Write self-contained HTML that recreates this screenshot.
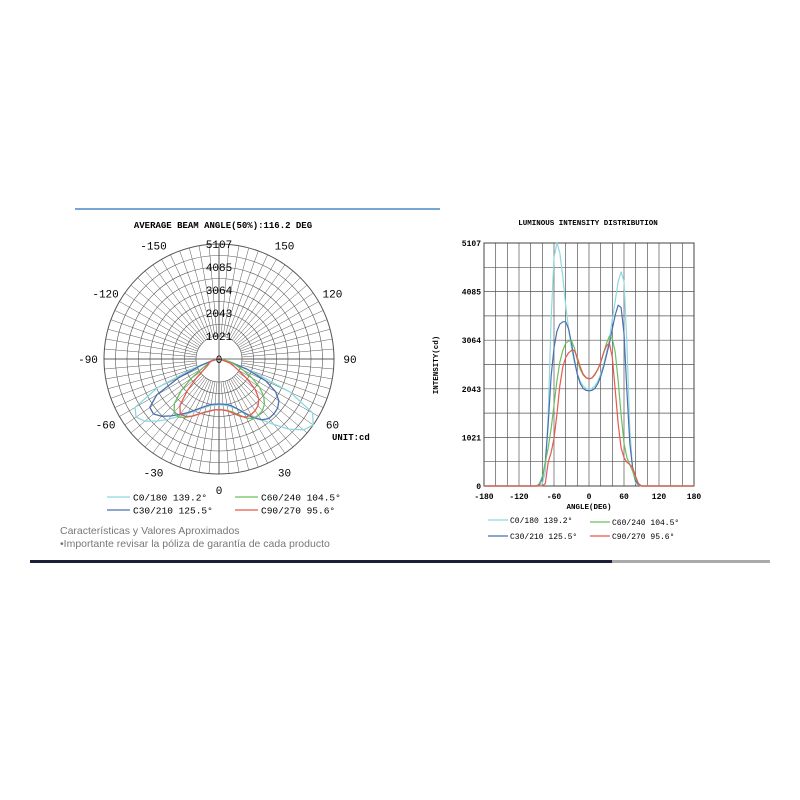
<!DOCTYPE html>
<html><head><meta charset="utf-8"><style>
body{margin:0;background:#fff;width:800px;height:800px;overflow:hidden;font-family:"Liberation Sans",sans-serif}
svg{position:absolute;left:0;top:0}
</style></head><body>
<svg id="s" width="800" height="800" viewBox="0 0 800 800">
<line x1="75" y1="209" x2="440" y2="209" stroke="#4a88c6" stroke-width="1.5"/>
<rect x="30" y="560" width="582" height="3" fill="#1c1f3a"/>
<rect x="612" y="560" width="158" height="3" fill="#aaa"/>
<text x="60" y="534" font-size="10.5" fill="#777">Características y Valores Aproximados</text>
<text x="60" y="547" font-size="10.5" fill="#777">•Importante revisar la póliza de garantía de cada producto</text>
<g id="polar"></g>
<g id="cart"></g>
</svg>
<script>
const angles=[-90,-85,-80,-75,-70,-65,-60,-55,-50,-45,-40,-35,-30,-25,-20,-15,-10,-5,0,5,10,15,20,25,30,35,40,45,50,55,60,65,70,75,80,85,90];
const c0=[0,10,50,300,1500,3500,4800,5107,4900,4400,3800,3300,2900,2600,2350,2200,2100,2050,2030,2050,2100,2200,2350,2550,2800,3100,3500,3900,4300,4500,4300,3000,1200,300,60,20,0];
const c30=[0,30,150,500,1300,2300,2900,3250,3400,3450,3450,3300,3000,2650,2350,2150,2050,2010,2000,2010,2050,2150,2300,2500,2750,3000,3300,3600,3800,3750,3200,2000,900,350,100,30,0];
const c60=[0,50,200,500,800,1200,1700,2200,2600,2850,3000,3050,3050,2900,2650,2450,2330,2270,2250,2270,2330,2450,2600,2800,3000,3150,3100,2800,2200,1500,900,600,450,300,150,50,0];
const c90=[0,0,0,50,500,700,1000,1500,2100,2500,2700,2800,2850,2850,2700,2500,2350,2280,2250,2270,2350,2450,2600,2800,2950,3000,2700,2000,1300,800,600,500,450,380,200,40,0];
const seriesNames=["C0/180 139.2°","C30/210 125.5°","C60/240 104.5°","C90/270 95.6°"];
const colors=["#8fd8de","#4a6fb0","#6cbf60","#e8584f"];
const yTicks=[0,1021,2043,3064,4085,5107];
const xTicks=[-180,-120,-60,0,60,120,180];
const polarLabels=[-150,150,-120,120,-90,90,-60,60,-30,30,0];
const MAX=5107;
const NS="http://www.w3.org/2000/svg";
function mk(p,t,a,txt){const e=document.createElementNS(NS,t);for(const k in a)e.setAttribute(k,a[k]);if(txt!==undefined)e.textContent=txt;p.appendChild(e);return e;}
const all=[c0,c30,c60,c90];
const P=document.getElementById('polar');
const cx=219,cy=359,R=115;
const rS=v=>v/MAX*R;
mk(P,'text',{x:223,y:228,'font-size':9,'font-weight':'bold','font-family':'Liberation Mono,monospace','text-anchor':'middle'},'AVERAGE BEAM ANGLE(50%):116.2 DEG');
for(let i=2;i<=10;i++){const c=mk(P,'circle',{cx:cx,cy:cy,r:R*i/10,fill:'none',stroke:'#555','stroke-width':i==10?1:0.6});}
for(let a=0;a<360;a+=5){const t=a*Math.PI/180;const l=mk(P,'line',{x1:cx+R*0.2*Math.sin(t),y1:cy+R*0.2*Math.cos(t),x2:cx+R*Math.sin(t),y2:cy+R*Math.cos(t),stroke:'#555','stroke-width':0.5});}
mk(P,'line',{x1:cx-R,y1:cy,x2:cx+R,y2:cy,stroke:'#444','stroke-width':0.8});
mk(P,'line',{x1:cx,y1:cy-R,x2:cx,y2:cy+R,stroke:'#444','stroke-width':0.8});
all.forEach((s,k)=>{const pts=angles.map((a,i)=>{const t=a*Math.PI/180,r=rS(s[i]);return (cx-r*Math.sin(t)).toFixed(1)+','+(cy+r*Math.cos(t)).toFixed(1)}).join(' ');
const pl=mk(P,'polyline',{points:pts,fill:'none',stroke:colors[k],'stroke-width':1.3,'stroke-linejoin':'round'});
});
yTicks.forEach(v=>{const t=mk(P,'text',{x:cx,y:cy-rS(v)+4,'font-size':11,'text-anchor':'middle','font-family':'Liberation Mono,monospace'},String(v));});
polarLabels.forEach(a=>{const t=a*Math.PI/180,r=131;
const e=mk(P,'text',{x:cx+r*Math.sin(t),y:cy+r*Math.cos(t)+4,'font-size':11,'text-anchor':'middle','font-family':'Liberation Mono,monospace'},String(a));});
mk(P,'text',{x:332,y:440,'font-size':9,'font-weight':'bold','font-family':'Liberation Mono,monospace'},'UNIT:cd');
const lg=[[107,497],[107,510],[235,497],[235,510]];
[0,1,2,3].forEach(k=>{const [x,y]=lg[k];const l=mk(P,'line',{x1:x,y1:y,x2:x+23,y2:y,stroke:colors[k],'stroke-width':1.2});
const t=mk(P,'text',{x:x+26,y:y+3.5,'font-size':9.5,'font-family':'Liberation Mono,monospace'},seriesNames[k]);});
const C=document.getElementById('cart');
const X0=484,X1=694,Y0=486,Y1=243;
const xs=a=>X0+(a+180)/360*(X1-X0), ys=v=>Y0-v/MAX*(Y0-Y1);
mk(C,'text',{x:588,y:225,'font-size':7.5,'font-weight':'bold','font-family':'Liberation Mono,monospace','text-anchor':'middle'},'LUMINOUS INTENSITY DISTRIBUTION');
for(let a=-180;a<=180;a+=20){const l=mk(C,'line',{x1:xs(a),y1:Y1,x2:xs(a),y2:Y0,stroke:'#555','stroke-width':0.7});}
for(let i=0;i<=10;i++){const v=MAX*i/10;const l=mk(C,'line',{x1:X0,y1:ys(v),x2:X1,y2:ys(v),stroke:'#555','stroke-width':0.7});}
mk(C,'rect',{x:X0,y:Y1,width:X1-X0,height:Y0-Y1,fill:'none',stroke:'#444','stroke-width':1});
all.forEach((s,k)=>{const pts=[[-180,0],...angles.map((a,i)=>[a,s[i]]),[180,0]].map(p=>xs(p[0]).toFixed(1)+','+ys(p[1]).toFixed(1)).join(' ');
const pl=mk(C,'polyline',{points:pts,fill:'none',stroke:colors[k],'stroke-width':1.2,'stroke-linejoin':'round'});});
yTicks.forEach(v=>{const t=mk(C,'text',{x:481,y:ys(v)+3,'font-size':8,'font-weight':'bold','text-anchor':'end','font-family':'Liberation Mono,monospace'},String(v));});
xTicks.forEach(a=>{const t=mk(C,'text',{x:xs(a),y:499,'font-size':8,'font-weight':'bold','text-anchor':'middle','font-family':'Liberation Mono,monospace'},String(a));});
mk(C,'text',{x:589,y:509,'font-size':7.5,'font-weight':'bold','text-anchor':'middle','font-family':'Liberation Mono,monospace'},'ANGLE(DEG)');
mk(C,'text',{x:0,y:0,'font-size':7.5,'font-weight':'bold','text-anchor':'middle','font-family':'Liberation Mono,monospace',transform:'translate(438,365) rotate(-90)'},'INTENSITY(cd)');
const lg2=[[488,520],[488,536],[590,522],[590,536]];
[0,1,2,3].forEach(k=>{const [x,y]=lg2[k];const l=mk(C,'line',{x1:x,y1:y,x2:x+20,y2:y,stroke:colors[k],'stroke-width':1.2});
const t=mk(C,'text',{x:x+22,y:y+3,'font-size':8,'font-family':'Liberation Mono,monospace'},seriesNames[k]);});
</script>
</body></html>
